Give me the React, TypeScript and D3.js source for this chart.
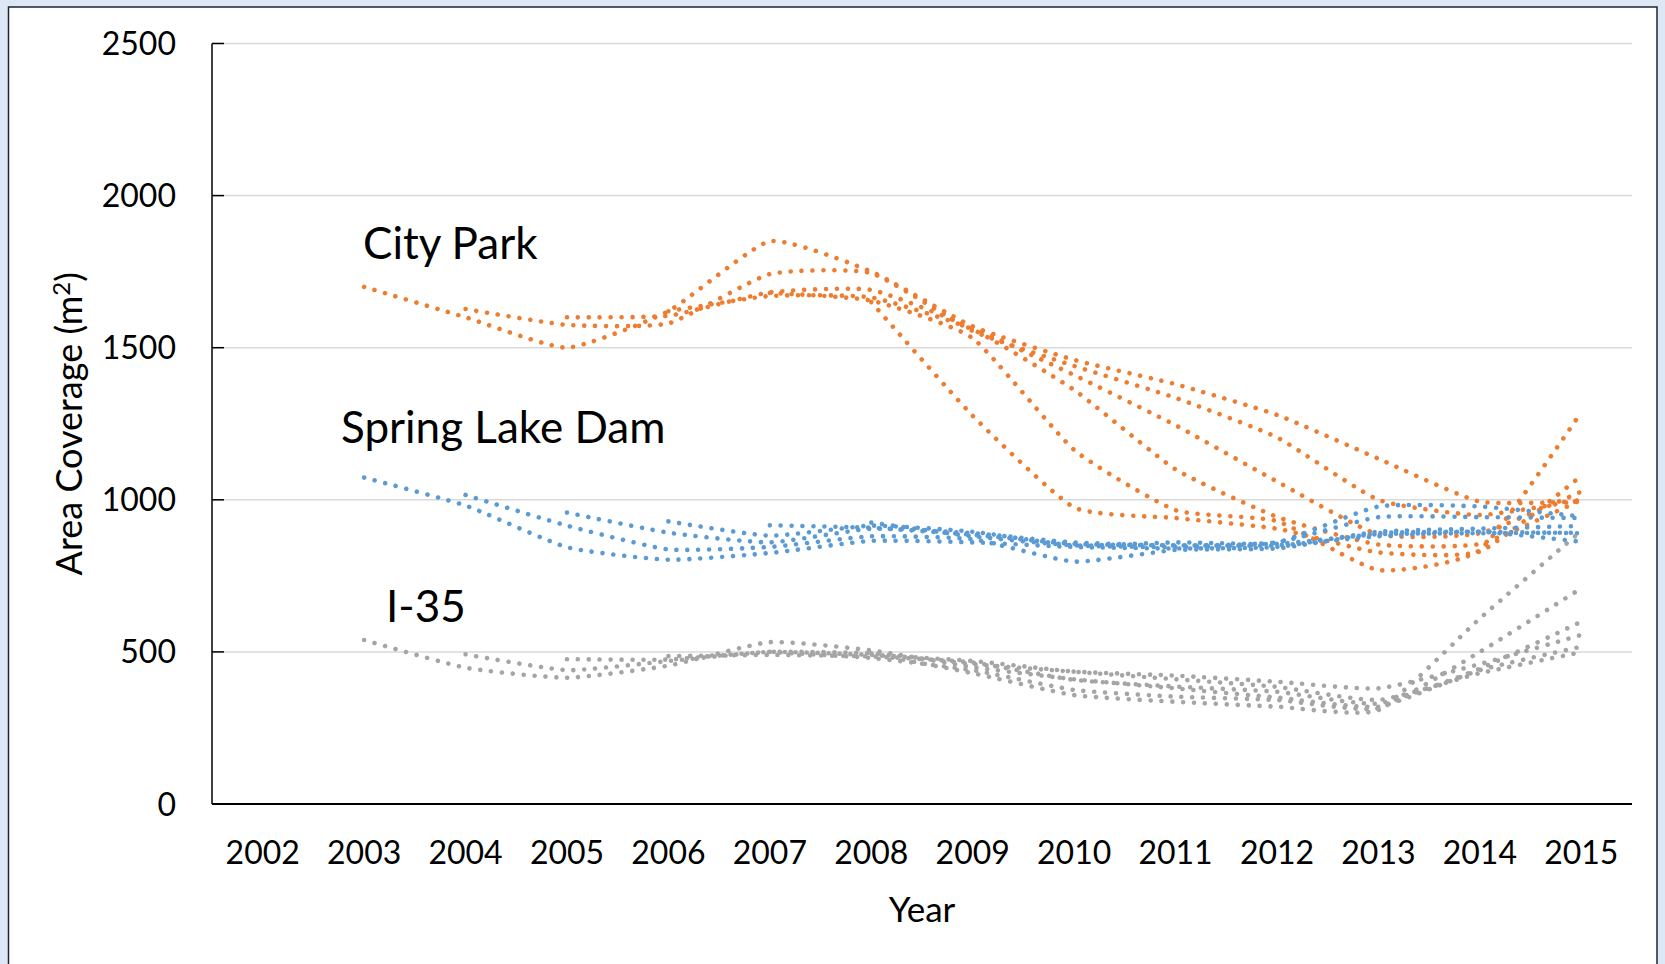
import React from 'react';
import * as d3 from 'd3';

// ---- data ----
const years = ['2002', '2003', '2004', '2005', '2006', '2007', '2008', '2009', '2010', '2011', '2012', '2013', '2014', '2015'];
const yTicks = [0, 500, 1000, 1500, 2000, 2500];
const startYears = ['2003', '2004', '2005', '2006', '2007', '2008'];

const cityPark = [
  [1700, 1600, 1500, 1620, 1850, 1750, 1570, 1460, 1380, 1279, 1135, 994, 995],
  [1627, 1575, 1580, 1742, 1745, 1555, 1440, 1335, 1205, 1000, 950, 1000],
  [1600, 1605, 1682, 1690, 1565, 1410, 1245, 1060, 886, 890, 1027],
  [1620, 1670, 1665, 1560, 1361, 1100, 944, 853, 855, 1000],
  [1680, 1655, 1531, 1164, 966, 930, 769, 835, 1288],
  [1650, 1276, 975, 940, 905, 827, 830, 1079],
];

const springLakeDam = [
  [1073, 981, 844, 803, 825, 865, 860, 845, 840, 845, 895, 905, 914],
  [1016, 915, 837, 845, 880, 870, 797, 835, 840, 890, 895, 890],
  [958, 892, 860, 905, 890, 860, 850, 860, 943, 943, 940],
  [929, 882, 915, 895, 850, 860, 855, 887, 890, 892],
  [916, 908, 885, 855, 850, 850, 880, 895, 862],
  [925, 880, 850, 845, 860, 978, 978, 945],
];

const i35 = [
  [539, 448, 415, 455, 532, 505, 450, 410, 380, 350, 320, 440, 517],
  [492, 440, 470, 500, 495, 460, 435, 422, 402, 380, 460, 556],
  [476, 475, 500, 490, 470, 435, 410, 385, 342, 430, 499],
  [486, 490, 485, 465, 408, 386, 369, 330, 445, 599],
  [500, 480, 440, 375, 353, 342, 315, 500, 709],
  [495, 430, 358, 336, 320, 309, 610, 898],
];

const siteSeries = [cityPark, springLakeDam, i35];
const siteColors = ['#ED7D31', '#5B9BD5', '#A5A5A5'];
const siteLabels = ['City Park', 'Spring Lake Dam', 'I-35'];

export default function App() {
  const W = 1665;
  const H = 964;
  const left = 212, right = 1632, top = 43.5, bottom = 804;
  const font = 'Lato, "Open Sans", sans-serif';

  const x = d3.scaleBand<string>().domain(years).range([left, right]).padding(0);
  const y = d3.scaleLinear().domain([0, 2500]).range([bottom, top]);
  const cx = (yr: string) => (x(yr) as number) + x.bandwidth() / 2;

  const line = d3
    .line<[string, number]>()
    .x((d) => cx(d[0]))
    .y((d) => y(d[1]))
    .curve(d3.curveCardinal.tension(0.5));

  const pathFor = (vals: number[], s: number) => {
    const i0 = years.indexOf(startYears[s]);
    return line(vals.map((v, k) => [years[i0 + k], v] as [string, number])) || '';
  };

  const labelPos = [
    { x: 363, y: 259 },
    { x: 341, y: 443 },
    { x: 386, y: 622 },
  ];

  return (
    <div style={{ position: 'absolute', left: 0, top: 0 }}>
      <svg width={W} height={H} style={{ display: 'block' }}>
        <rect x={0} y={0} width={W} height={H} fill="#DEE8F4" />
        <rect x={8.5} y={7} width={1648.5} height={1000} fill="#ffffff" stroke="#1c2530" strokeWidth={1.5} />

        {yTicks.filter((t) => t > 0).map((t) => (
          <line key={t} x1={left} x2={right} y1={y(t)} y2={y(t)} stroke="#D9D9D9" strokeWidth={1.5} />
        ))}

        {siteSeries.map((series, si) => (
          <g key={si}>
            {series.map((vals, s) => (
              <path
                key={s}
                d={pathFor(vals, s)}
                fill="none"
                stroke={siteColors[si]}
                strokeWidth={4.6}
                strokeLinecap="round"
                strokeDasharray="0.01 10.9"
              />
            ))}
          </g>
        ))}

        <line x1={left} x2={left} y1={top} y2={bottom} stroke="#000" strokeWidth={1.5} />
        <line x1={left} x2={right} y1={bottom} y2={bottom} stroke="#000" strokeWidth={2} />
        {yTicks.map((t) => (
          <g key={t}>
            <line x1={left} x2={left + 12} y1={y(t)} y2={y(t)} stroke="#000" strokeWidth={1.5} />
            <text x={176} y={y(t)} dy="0.36em" textAnchor="end" fontFamily={font} fontSize={32} fill="#000">
              {t}
            </text>
          </g>
        ))}
        {years.map((yr) => (
          <text key={yr} x={cx(yr)} y={864} textAnchor="middle" fontFamily={font} fontSize={32} fill="#000">
            {yr}
          </text>
        ))}

        <text x={(left + right) / 2} y={922} textAnchor="middle" fontFamily={font} fontSize={35} fill="#000">
          Year
        </text>
        <text
          transform={`translate(82, ${(top + bottom) / 2}) rotate(-90)`}
          textAnchor="middle"
          fontFamily={font}
          fontSize={36}
          fill="#000"
        >
          Area Coverage (m<tspan dy={-12} fontSize={24}>2</tspan>
          <tspan dy={12}>)</tspan>
        </text>

        {siteLabels.map((lbl, i) => (
          <text key={lbl} x={labelPos[i].x} y={labelPos[i].y} fontFamily={font} fontSize={44} fill="#000">
            {lbl}
          </text>
        ))}
      </svg>
    </div>
  );
}
